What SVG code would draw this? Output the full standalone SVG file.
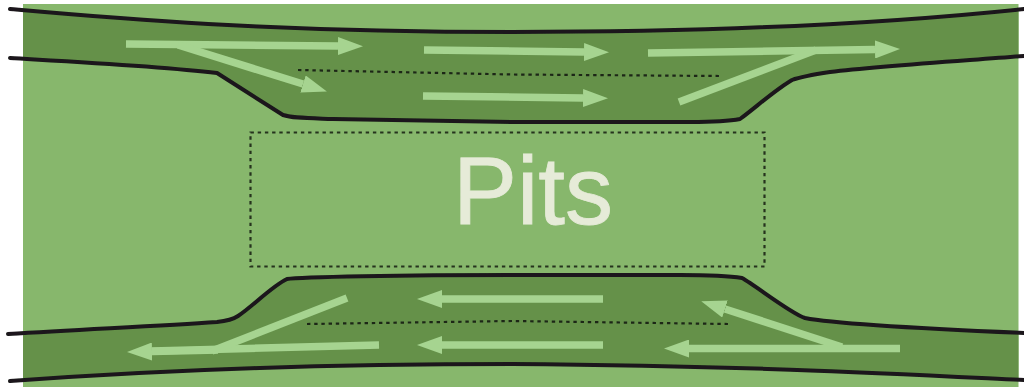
<svg xmlns="http://www.w3.org/2000/svg" width="1024" height="387" viewBox="0 0 1024 387">
<style>
.edge{fill:none;stroke:#1a191a;stroke-width:4;stroke-linecap:round;stroke-linejoin:round}
.road{fill:#65914a}
.arrow{fill:none;stroke:#a6d490;stroke-width:7.500}
.head{marker-end:url(#ah)}
.lane{fill:none;stroke:#1c2618;stroke-width:2.200;stroke-dasharray:3.400 3.800}
.pit{fill:none;stroke:#25331f;stroke-width:2.200;stroke-dasharray:3.400 3.800}
</style>
<defs>
<marker id="ah" markerUnits="userSpaceOnUse" markerWidth="26" markerHeight="18" refX="0" refY="9" orient="auto"><path d="M0 0L25 9L0 18Z" fill="#a6d490"/></marker>
<clipPath id="field"><rect x="23" y="4" width="995.500" height="383"/></clipPath>
<filter id="soft" x="-2%" y="-2%" width="104%" height="104%"><feGaussianBlur stdDeviation="0.5"/></filter>
</defs>
<rect width="1024" height="387" fill="#fff"/>
<g filter="url(#soft)">
<rect x="23" y="4" width="995.500" height="383" fill="#87b76c"/>
<g id="roads" clip-path="url(#field)">
<path class="road" d="M10 9C100 17 260 32 512 32C745 32 900 22 1024 9V56C960 61 880 66 830 72C810 75 800 77 792 80C775 90 755 108 740 119C730 121 720 122 690 122L512 122L333 119C305 118 292 118 283 115L217 73C160 66 80 62 10 58Z"/>
<path class="road" d="M8 334C90 329 160 326 217 322C226 321 232 320 238 316C252 307 272 286 287 279C300 277 400 275 512 275L680 275C705 275 730 276 742 278C755 285 790 313 805 318C830 323 930 329 1024 333V380C900 374 760 366 512 364C300 364 130 372 10 381Z"/>
</g>
<g id="road-edges">
<path class="edge" d="M10 9C100 17 260 32 512 32C745 32 900 22 1024 9"/>
<path class="edge" d="M10 58C80 62 160 66 217 73L283 115C292 118 305 118 333 119L512 122L690 122C720 122 730 121 740 119C755 108 775 90 792 80C800 77 810 75 830 72C880 66 960 61 1024 56"/>
<path class="edge" d="M8 334C90 329 160 326 217 322C226 321 232 320 238 316C252 307 272 286 287 279C300 277 400 275 512 275L680 275C705 275 730 276 742 278C755 285 790 313 805 318C830 323 930 329 1024 333"/>
<path class="edge" d="M10 381C130 372 300 364 512 364C760 366 900 374 1024 380"/>
</g>
<g id="lane-dividers">
<path class="lane" d="M298 70L512 74.500L720 76"/>
<path class="lane" d="M307 324L512 321L729 324"/>
</g>
<rect id="pit-box" class="pit" x="250.500" y="132.500" width="514" height="134"/>
<g id="arrows">
<path class="arrow head" d="M126 44L338 46"/>
<path class="arrow head" d="M178 45L303 84"/>
<path class="arrow head" d="M424 50L584 52"/>
<path class="arrow head" d="M423 96L583 98"/>
<path class="arrow head" d="M648 53L875 49.500"/>
<path class="arrow" d="M679 102L816 50"/>
<path class="arrow" d="M379 345L152 351"/>
<path class="arrow head" d="M218 350L152 351.500"/>
<path class="arrow" d="M347 298L212 351"/>
<path class="arrow head" d="M603 299L442 299"/>
<path class="arrow head" d="M603 345L442 345"/>
<path class="arrow head" d="M900 348.500L689 348.500"/>
<path class="arrow head" d="M842 347L725 309"/>
</g>
<text id="pits-label" x="453" y="224" font-family="'Liberation Sans',Arial,sans-serif" font-size="96" fill="#e6ebd8" stroke="#e6ebd8" stroke-width="0.800">Pits</text>
</g>
</svg>
